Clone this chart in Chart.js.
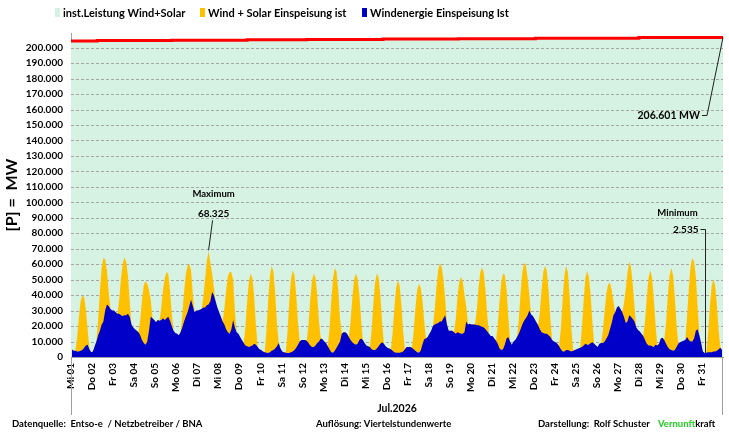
<!DOCTYPE html>
<html><head><meta charset="utf-8">
<script src="https://cdn.jsdelivr.net/npm/chart.js@4.4.0/dist/chart.umd.min.js"></script>
<style>html,body{margin:0;padding:0;background:#fff;}#wrap{width:729px;height:432px;}</style>
</head><body><div id="wrap"><canvas id="c" width="729" height="432"></canvas></div>
<script>
const dayLabels = ["Mi 01","Do 02","Fr 03","Sa 04","So 05","Mo 06","Di 07","Mi 08","Do 09","Fr 10","Sa 11","So 12","Mo 13","Di 14","Mi 15","Do 16","Fr 17","Sa 18","So 19","Mo 20","Di 21","Mi 22","Do 23","Fr 24","Sa 25","So 26","Mo 27","Di 28","Mi 29","Do 30","Fr 31"];
const slotHours = [1,3,5,7,9,11,13,15,17,19,21,23];
const yTicks = [0,10000,20000,30000,40000,50000,60000,70000,80000,90000,100000,110000,120000,130000,140000,150000,160000,170000,180000,190000,200000];
const monthLabel = "Jul.2026";
const legendLabels = ["inst.Leistung Wind+Solar","Wind + Solar Einspeisung ist","Windenergie Einspeisung Ist"];

// Windenergie Einspeisung (MW), one row per day, values at slotHours
const windMW = [
[5000,4000,4000,3500,3500,4000,4500,6000,7500,8000,5000,3000],
[3500,7000,10000,14000,17000,21000,23000,30000,34000,33000,31000,30000],
[30000,29000,28000,28000,27000,26500,27000,27000,28000,26000,21000,19000],
[18000,17000,16000,14000,11000,9000,8000,10000,17000,26000,25000,24000],
[22500,24000,23500,24000,25000,24000,25000,26000,23500,20000,17000,15500],
[15000,14000,16000,19000,23000,26000,29000,33000,37000,33000,29000,30000],
[30000,30500,31000,32000,32000,33500,34000,36000,42000,40000,36000,32000],
[29000,26000,23000,21000,18000,16000,15000,18000,24000,19000,16000,15000],
[13000,11000,9000,7500,7000,6500,7000,7500,8500,8000,6500,5000],
[4500,3500,3000,2800,2600,3000,4000,4500,5500,7000,9000,5500],
[3500,3000,2800,2600,2600,3000,3500,4500,6000,8000,10000,11000],
[11000,11000,10500,9000,7500,6500,6500,7500,9000,10000,12000,11500],
[10000,9000,7000,5000,3000,2800,4000,6000,8000,10000,15000,16000],
[16000,15000,13000,11000,9500,8500,8000,8500,11000,12000,11000,9000],
[7500,7000,6500,5000,4500,4500,5500,7000,8500,9500,8500,7000],
[6000,5500,5000,4000,3000,2800,2700,2700,3000,3500,5000,6500],
[6500,6500,6000,5000,4000,3000,2800,4000,8000,11500,12000,13000],
[15000,17000,20000,21000,21500,22000,23000,23000,25000,27000,21000,17000],
[17000,17000,16000,15000,16000,15500,15000,15000,16000,23000,21000,21500],
[21000,21000,21000,20500,20500,20000,19500,19000,18000,16500,15000,13500],
[13500,12000,10500,8500,5500,4500,5000,8000,12000,13000,10000,8000],
[10000,11000,13000,15000,18000,21000,23500,25000,27000,30000,27500,26500],
[24500,22500,20500,18000,16000,15500,15000,15000,14000,13000,11000,10000],
[9500,8500,7000,5000,3500,3500,4500,4500,4000,3500,4000,4500],
[5000,5500,6000,6500,7500,8500,8000,8000,9000,9500,8500,7500],
[6500,8500,9000,9000,10000,12000,14000,18000,22000,27000,29000,32000],
[33000,31000,29000,26000,22000,23000,27000,26000,24500,23000,19000,17500],
[16500,15000,13500,11000,8500,7500,7500,7000,6500,8000,7500,8500],
[12000,12500,11000,8500,6500,5000,4500,4000,4500,6500,8500,9500],
[10000,10500,11000,13000,11000,10000,10000,12000,17000,18000,14000,9000],
[3500,2535,2800,3000,3000,3000,3500,3500,4000,5000,6000,4500]
];

// Solar share (MW) on top of wind, one row per day, values at slotHours
const solarMW = [
[0,0,0,8900,22000,32000,35500,32700,23100,9600,0,0],
[0,0,0,10300,25400,36900,41000,33000,22000,9000,0,0],
[0,0,0,9400,23300,33800,37500,34500,24400,10100,0,0],
[0,0,0,10000,25800,37200,41000,37400,26200,10800,0,0],
[0,0,0,7500,18600,27000,30000,27600,19500,8100,0,0],
[0,0,0,7800,19000,27300,30000,27200,19000,7700,0,0],
[0,0,0,7000,18000,28500,34325,25000,12000,5000,0,0],
[0,0,0,10000,24800,36000,40000,36800,26000,10800,0,0],
[0,0,0,11800,29100,42300,47000,43200,30600,12700,0,0],
[0,0,0,13800,34100,49500,55000,50600,35800,14900,0,0],
[0,0,0,13100,32600,47300,52500,48300,34100,14200,0,0],
[0,0,0,11900,29500,42800,47500,43700,30900,12800,0,0],
[0,0,0,13400,33200,48200,53500,49200,34800,14400,0,0],
[0,0,0,11500,28500,41400,46000,42300,29900,12400,0,0],
[0,0,0,12100,30100,43700,48500,44600,31500,13100,0,0],
[0,0,0,11500,28800,42000,47000,43500,31000,13000,0,0],
[0,0,0,11200,27700,40100,44600,41000,29000,12000,0,0],
[0,0,0,9500,23600,34200,38000,35000,24700,10300,0,0],
[0,0,0,9200,22800,33000,36700,33800,23900,9900,0,0],
[0,0,0,9600,23900,34700,38500,35400,25000,10400,0,0],
[0,0,0,12300,30400,44100,49000,45100,31900,13200,0,0],
[0,0,0,9400,23300,33800,37500,34500,24400,10100,0,0],
[0,0,0,11000,27300,39600,44000,40500,28600,11900,0,0],
[0,0,0,13600,33800,49100,54500,50100,35400,14700,0,0],
[0,0,0,11900,29400,42700,47400,43600,30800,12800,0,0],
[0,0,0,8200,20300,29500,32800,30200,21300,8900,0,0],
[0,0,0,8700,21600,31300,34800,32000,22600,9400,0,0],
[0,0,0,12100,30100,43700,48500,44600,31500,13100,0,0],
[0,0,0,13300,32900,47700,53000,48800,34500,14300,0,0],
[0,0,0,13500,33500,48600,54000,49700,35100,14600,0,0],
[0,0,0,12000,29500,42500,47000,42800,30000,12500,0,0]
];

// installierte Leistung Wind+Solar (MW), stepwise, hours since month start
const instHours = [0,30,115,201,269,356,442,530,648,744];
const instMW = [204350,204600,204850,205100,205350,205600,205850,206100,206601,206601];

const MINT = "rgb(213,242,227)", GOLD = "#ffc000", BLUE = "#0000c8", RED = "#ff0000";
const FONT = "Lato, 'Open Sans', sans-serif";

const fmt = v => String(v).replace(/\B(?=(\d{3})+(?!\d))/g, ".");

const windPts = [], totalPts = [];
windMW.forEach((row, d) => row.forEach((w, k) => {
  const x = d * 24 + slotHours[k];
  windPts.push({x: x, y: w});
  totalPts.push({x: x, y: w + solarMW[d][k]});
}));
const instPts = instHours.map((h, i) => ({x: h, y: instMW[i]}));

Chart.defaults.font.family = FONT;
Chart.defaults.font.weight = "bold";
Chart.defaults.color = "#000";

const decor = {
  id: "decor",
  afterDatasetDraw(chart, args) {
    if (args.index !== 2) return;
    const {ctx, chartArea: a, scales: {y}} = chart;
    ctx.save();
    ctx.strokeStyle = "#a6a6a6"; ctx.lineWidth = 1; ctx.setLineDash([3, 2]);
    y.ticks.forEach(t => {
      if (t.value === 0) return;
      const py = Math.round(y.getPixelForValue(t.value)) + 0.5;
      ctx.beginPath(); ctx.moveTo(a.left, py); ctx.lineTo(a.right, py); ctx.stroke();
    });
    ctx.restore();
  },
  afterDraw(chart) {
    const {ctx, chartArea: a, scales: {x, y}} = chart;
    ctx.save();
    ctx.strokeStyle = "#a0a0a0"; ctx.lineWidth = 1;
    ctx.beginPath();
    ctx.moveTo(Math.round(a.left) + 0.5, a.bottom); ctx.lineTo(Math.round(a.left) + 0.5, 415);
    ctx.moveTo(Math.round(a.right) - 0.5, a.bottom); ctx.lineTo(Math.round(a.right) - 0.5, 415);
    ctx.stroke();

    // legend
    const items = [[55, MINT, legendLabels[0]], [200, GOLD, legendLabels[1]], [362, BLUE, legendLabels[2]]];
    ctx.font = "bold 11px " + FONT; ctx.textBaseline = "middle"; ctx.textAlign = "left";
    items.forEach(([lx, c, t]) => {
      ctx.fillStyle = c; ctx.fillRect(lx, 8, 5, 9);
      ctx.fillStyle = "#000"; ctx.fillText(t, lx + 8, 13);
    });

    // footer
    ctx.font = "bold 9.5px " + FONT; ctx.fillStyle = "#000";
    ctx.fillText("Datenquelle:  Entso-e  / Netzbetreiber / BNA", 12, 424);
    ctx.fillText("Auflösung: Viertelstundenwerte", 316, 424);
    ctx.fillText("Darstellung:  Rolf Schuster", 538, 424);
    ctx.fillStyle = "#22cc22"; ctx.fillText("Vernunft", 658, 424);
    const vw = ctx.measureText("Vernunft").width;
    ctx.fillStyle = "#000"; ctx.fillText("kraft", 658 + vw, 424);

    // annotations
    let iMax = 0, iMin = 0;
    totalPts.forEach((p, i) => { if (p.y > totalPts[iMax].y) iMax = i; if (p.y < totalPts[iMin].y) iMin = i; });
    ctx.strokeStyle = "#222"; ctx.lineWidth = 1;
    const mx = x.getPixelForValue(totalPts[iMax].x), my = y.getPixelForValue(totalPts[iMax].y);
    ctx.beginPath(); ctx.moveTo(mx, my - 1); ctx.lineTo(mx + 4, my - 31); ctx.stroke();
    ctx.textAlign = "center"; ctx.fillStyle = "#000";
    ctx.font = "bold 9.5px " + FONT; ctx.fillText("Maximum", mx + 5, my - 57);
    ctx.font = "bold 10px " + FONT; ctx.fillText(fmt(totalPts[iMax].y), mx + 5, my - 38);
    const nx = Math.round(x.getPixelForValue(totalPts[iMin].x)) + 0.5, ny = y.getPixelForValue(totalPts[iMin].y);
    const ly = Math.round(ny - 124) + 0.5;
    ctx.beginPath(); ctx.moveTo(nx, ny); ctx.lineTo(nx, ly); ctx.lineTo(nx - 5, ly); ctx.stroke();
    ctx.font = "bold 9.5px " + FONT; ctx.textAlign = "center"; ctx.fillText("Minimum", nx - 28, ly - 17);
    ctx.font = "bold 10px " + FONT; ctx.textAlign = "right"; ctx.fillText(fmt(totalPts[iMin].y), nx - 7, ly);
    const last = instPts[instPts.length - 1];
    const ix = x.getPixelForValue(last.x), iy = y.getPixelForValue(last.y);
    const tx = ix - 16, ty = Math.round(iy + 78) + 0.5;
    ctx.beginPath(); ctx.moveTo(ix, iy); ctx.lineTo(tx, ty); ctx.lineTo(tx - 5, ty); ctx.stroke();
    ctx.font = "bold 10.5px " + FONT; ctx.textAlign = "right";
    ctx.fillText(fmt(last.y) + " MW", tx - 7, ty);
    ctx.restore();
  }
};

new Chart(document.getElementById("c"), {
  type: "line",
  data: { datasets: [
    {label: legendLabels[2], data: windPts, backgroundColor: BLUE, borderColor: "rgba(0,0,0,0)", borderWidth: 0, fill: "origin", pointRadius: 0, tension: 0},
    {label: legendLabels[1], data: totalPts, backgroundColor: GOLD, borderColor: "rgba(0,0,0,0)", borderWidth: 0, fill: "origin", pointRadius: 0, tension: 0},
    {label: legendLabels[0], data: instPts, backgroundColor: MINT, borderColor: RED, borderWidth: 3, fill: "origin", stepped: "before", pointRadius: 0}
  ]},
  options: {
    responsive: false, animation: false, devicePixelRatio: 1,
    layout: {padding: {top: 33, left: 0, right: 6, bottom: 17}},
    plugins: {legend: {display: false}, tooltip: {enabled: false}},
    scales: {
      x: {
        type: "linear", min: 0, max: 744,
        afterBuildTicks: a => { a.ticks = dayLabels.map((_, i) => ({value: i * 24})); },
        afterFit: s => { s.height = 58; },
        grid: {display: false, drawTicks: false},
        border: {display: true, color: "#a0a0a0", width: 1},
        ticks: {autoSkip: false, maxRotation: 90, minRotation: 90, padding: 6, color: "#000",
                font: {size: 10, weight: "bold"},
                callback: v => dayLabels[Math.round(v / 24)] || ""},
        title: {display: true, text: monthLabel, color: "#000", font: {size: 10.5, weight: "bold"}, padding: {top: 0, bottom: 0}}
      },
      y: {
        min: 0, max: 209500,
        afterBuildTicks: a => { a.ticks = yTicks.map(v => ({value: v})); },
        afterFit: s => { s.width = 71; },
        grid: {display: false, drawTicks: false},
        border: {display: true, color: "#a0a0a0", width: 1},
        ticks: {autoSkip: false, padding: 8, color: "#000", font: {size: 10, weight: "bold"}, callback: v => fmt(v)},
        title: {display: true, text: "[P] =  MW", color: "#000", font: {size: 16, weight: "bold"}, padding: {top: 2, bottom: 0}}
      }
    }
  },
  plugins: [decor]
});
</script></body></html>
